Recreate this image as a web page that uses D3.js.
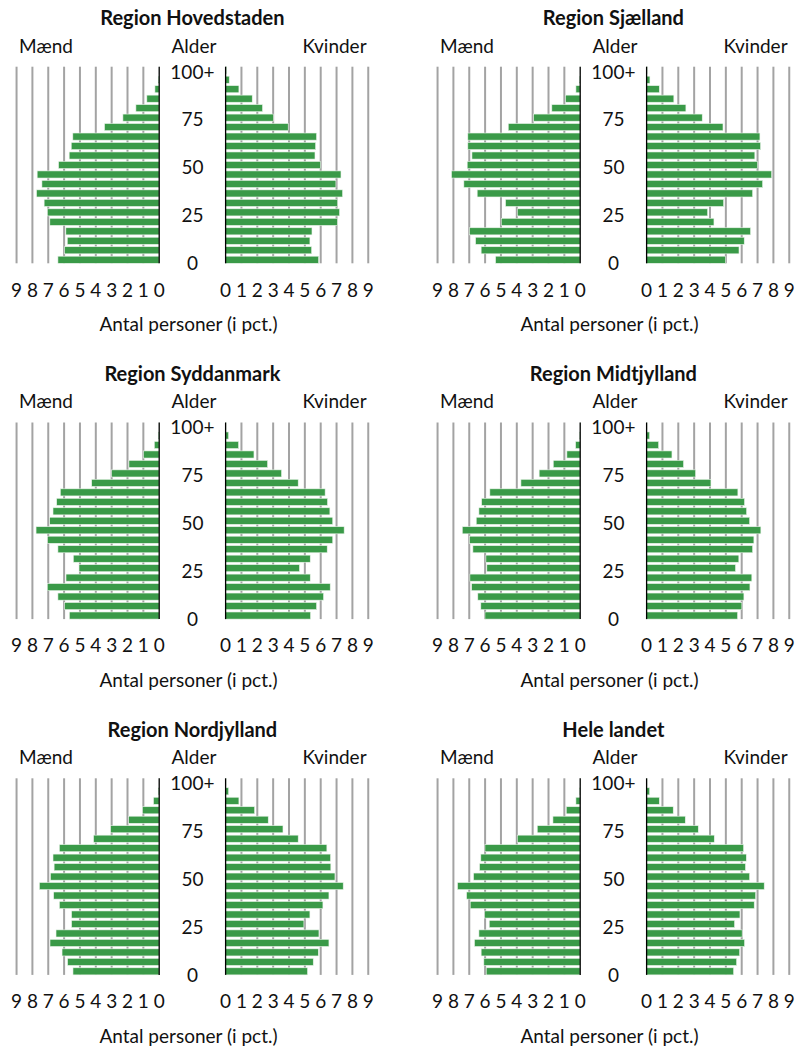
<!DOCTYPE html>
<html>
<head>
<meta charset="utf-8">
<script src="https://cdn.jsdelivr.net/npm/d3@7"></script>
<style>
  html, body { margin: 0; padding: 0; background: #fff; }
  svg { display: block; }
  text { font-family: Lato, "Liberation Sans", sans-serif; fill: #111; }
</style>
</head>
<body>
<script>
// Age groups (bottom to top)
const ageGroups = ["0-4","5-9","10-14","15-19","20-24","25-29","30-34","35-39","40-44","45-49",
  "50-54","55-59","60-64","65-69","70-74","75-79","80-84","85-89","90-94","95-99","100+"];
const ageTickValues = [0, 25, 50, 75, 100];
const ageTickLabels = ["0", "25", "50", "75", "100+"];
const pctTicks = [0,1,2,3,4,5,6,7,8,9];

const regionNames = ["Region Hovedstaden","Region Sjælland","Region Syddanmark","Region Midtjylland","Region Nordjylland","Hele landet"];

const hovedstadenMaend   = [6.39,5.97,5.80,5.89,6.90,7.05,7.26,7.74,7.40,7.70,6.35,5.68,5.55,5.45,3.45,2.29,1.47,0.78,0.27,0.06,0.01];
const hovedstadenKvinder = [5.87,5.43,5.32,5.45,7.05,7.19,7.07,7.38,6.96,7.28,5.99,5.64,5.68,5.74,3.95,3.01,2.33,1.68,0.84,0.23,0.06];
const sjaellandMaend     = [5.34,6.25,6.60,6.98,4.98,3.97,4.71,6.50,7.34,8.12,7.13,6.83,7.09,7.09,4.54,2.94,1.79,0.93,0.27,0.05,0.01];
const sjaellandKvinder   = [4.98,5.83,6.16,6.56,4.25,3.85,4.86,6.69,7.32,7.89,7.00,6.83,7.19,7.15,4.82,3.51,2.48,1.72,0.80,0.21,0.04];
const syddanmarkMaend    = [5.67,5.97,6.39,7.06,5.88,5.06,5.42,6.39,7.04,7.77,6.91,6.70,6.47,6.24,4.26,3.00,1.91,0.99,0.31,0.06,0.01];
const syddanmarkKvinder  = [5.36,5.74,6.18,6.60,5.34,4.66,5.34,6.41,6.76,7.48,6.76,6.58,6.43,6.28,4.58,3.53,2.65,1.79,0.82,0.19,0.03];
const midtjyllandMaend   = [6.01,6.27,6.46,6.85,6.96,5.89,5.95,6.77,6.98,7.44,6.56,6.39,6.22,5.70,3.74,2.59,1.70,0.84,0.29,0.04,0.01];
const midtjyllandKvinder = [5.74,6.01,6.14,6.52,6.64,5.61,5.82,6.69,6.77,7.21,6.50,6.31,6.18,5.76,4.06,3.09,2.33,1.60,0.76,0.19,0.03];
const nordjyllandMaend   = [5.44,5.78,6.13,6.89,6.51,5.53,5.53,6.30,6.66,7.56,6.86,6.63,6.70,6.30,4.14,3.06,1.93,1.05,0.36,0.06,0.01];
const nordjyllandKvinder = [5.17,5.53,5.85,6.52,5.89,4.94,5.32,6.14,6.52,7.42,6.90,6.64,6.62,6.39,4.58,3.62,2.69,1.83,0.84,0.19,0.03];
const heleLandetMaend    = [5.93,6.08,6.25,6.67,6.39,5.74,6.03,6.94,7.17,7.74,6.73,6.35,6.27,6.01,3.97,2.71,1.72,0.88,0.27,0.04,0.01];
const heleLandetKvinder  = [5.49,5.68,5.87,6.18,6.03,5.55,5.89,6.79,6.88,7.42,6.50,6.24,6.29,6.12,4.27,3.26,2.44,1.68,0.80,0.19,0.03];

const maendSeries   = [hovedstadenMaend, sjaellandMaend, syddanmarkMaend, midtjyllandMaend, nordjyllandMaend, heleLandetMaend];
const kvinderSeries = [hovedstadenKvinder, sjaellandKvinder, syddanmarkKvinder, midtjyllandKvinder, nordjyllandKvinder, heleLandetKvinder];

// ---- layout ----
const W = 807, H = 1054;
const colX = [0, 421];
const rowY = [0, 355.8, 711.6];
const leftZero = 159.2, rightZero = 225.6, unit = 15.85;
const gridTop = 66.7, gridBottom = 263.3;
const midX = 192.4;
const green = "#3a9a48";
const gridColor = "#a3a3a3";
const fs = 19;

const svg = d3.select("body").append("svg").attr("width", W).attr("height", H);

const xL = d3.scaleLinear().domain([0, 9]).range([leftZero, leftZero - 9 * unit]);
const xR = d3.scaleLinear().domain([0, 9]).range([rightZero, rightZero + 9 * unit]);
const yBand = d3.scaleBand().domain(ageGroups).range([gridBottom, gridTop]).paddingInner(0.25).paddingOuter(0);
const yAge = d3.scaleLinear().domain([0, 100]).range([gridBottom, 71.7]);

regionNames.forEach((name, i) => {
  const g = svg.append("g").attr("transform", `translate(${colX[i % 2]},${rowY[Math.floor(i / 2)]})`);
  const males = maendSeries[i], females = kvinderSeries[i];

  // gridlines
  const gridVals = pctTicks.filter(d => d > 0);
  g.selectAll(".gl").data(gridVals).join("line")
    .attr("x1", d => xL(d)).attr("x2", d => xL(d))
    .attr("y1", gridTop).attr("y2", gridBottom)
    .attr("stroke", gridColor).attr("stroke-width", 2);
  g.selectAll(".gr").data(gridVals).join("line")
    .attr("x1", d => xR(d)).attr("x2", d => xR(d))
    .attr("y1", gridTop).attr("y2", gridBottom)
    .attr("stroke", gridColor).attr("stroke-width", 2);

  // bars
  g.selectAll(".bm").data(ageGroups).join("rect")
    .attr("x", (d, j) => xL(males[j]))
    .attr("width", (d, j) => xL(0) - xL(males[j]))
    .attr("y", d => yBand(d))
    .attr("height", yBand.bandwidth())
    .attr("fill", green).attr("stroke", "#eaf3ea").attr("stroke-width", 0.6);
  g.selectAll(".bf").data(ageGroups).join("rect")
    .attr("x", xR(0))
    .attr("width", (d, j) => xR(females[j]) - xR(0))
    .attr("y", d => yBand(d))
    .attr("height", yBand.bandwidth())
    .attr("fill", green).attr("stroke", "#eaf3ea").attr("stroke-width", 0.6);

  // zero axes
  [xL(0), xR(0)].forEach(x => {
    g.append("line").attr("x1", x).attr("x2", x).attr("y1", gridTop).attr("y2", gridBottom)
      .attr("stroke", "#000").attr("stroke-width", 1.3);
  });

  // tick labels
  g.selectAll(".tl").data(pctTicks).join("text")
    .attr("x", d => xL(d)).attr("y", 296.5).attr("text-anchor", "middle")
    .attr("font-size", fs).text(d => d);
  g.selectAll(".tr").data(pctTicks).join("text")
    .attr("x", d => xR(d)).attr("y", 296.5).attr("text-anchor", "middle")
    .attr("font-size", fs).text(d => d);

  // age labels
  g.selectAll(".al").data(ageTickValues).join("text")
    .attr("x", midX).attr("y", d => yAge(d)).attr("dy", "0.36em")
    .attr("text-anchor", "middle").attr("font-size", fs)
    .text((d, j) => ageTickLabels[j]);

  // headings
  g.append("text").attr("x", midX).attr("y", 25).attr("text-anchor", "middle")
    .attr("font-size", 20).attr("font-weight", "bold").text(name);
  g.append("text").attr("x", 46).attr("y", 52.5).attr("text-anchor", "middle")
    .attr("font-size", fs).text("Mænd");
  g.append("text").attr("x", 194).attr("y", 52.5).attr("text-anchor", "middle")
    .attr("font-size", fs).text("Alder");
  g.append("text").attr("x", 334.5).attr("y", 52.5).attr("text-anchor", "middle")
    .attr("font-size", fs).text("Kvinder");
  g.append("text").attr("x", 188.5).attr("y", 331).attr("text-anchor", "middle")
    .attr("font-size", fs).text("Antal personer (i pct.)");
});
</script>
</body>
</html>
